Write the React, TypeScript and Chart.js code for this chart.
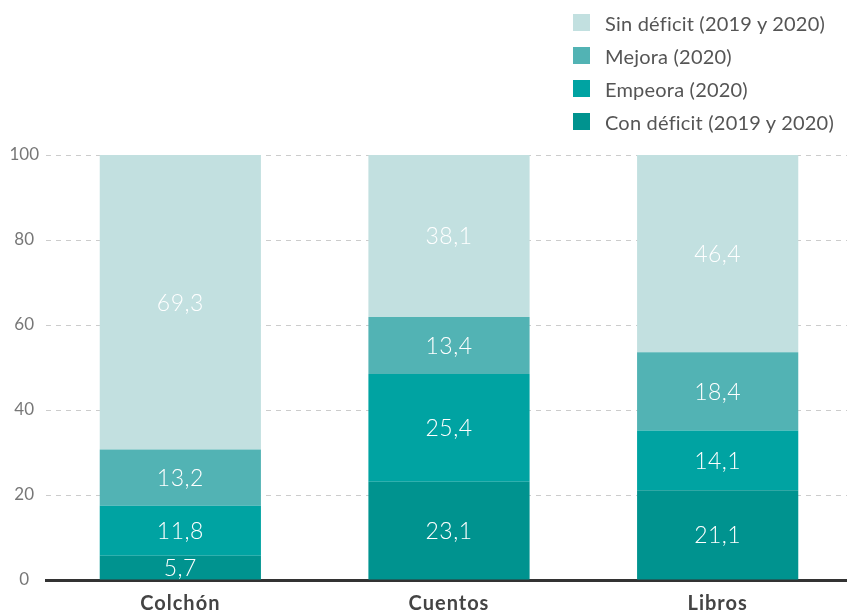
import React, { useEffect, useRef } from "react";
import { Chart, registerables } from "chart.js";

Chart.register(...registerables);

const categories = ["Colchón", "Cuentos", "Libros"];
const conDeficit = [5.7, 23.1, 21.1];
const empeora = [11.8, 25.4, 14.1];
const mejora = [13.2, 13.4, 18.4];
const sinDeficit = [69.3, 38.1, 46.4];
const yTicks = [0, 20, 40, 60, 80, 100];

const seriesNames = ["Con déficit (2019 y 2020)", "Empeora (2020)", "Mejora (2020)", "Sin déficit (2019 y 2020)"];
const seriesColors = ["#00938f", "#00a3a2", "#52b3b4", "#c2e0e0"];
const seriesData = [conDeficit, empeora, mejora, sinDeficit];

const FONT = "Lato, 'Open Sans', sans-serif";

const labelPlugin = {
  id: "segLabels",
  afterDatasetsDraw(chart: any) {
    const ctx = chart.ctx;
    ctx.save();
    ctx.fillStyle = "#ffffff";
    ctx.font = `300 23px ${FONT}`;
    (ctx as any).letterSpacing = "0.5px";
    ctx.textAlign = "center";
    ctx.textBaseline = "middle";
    chart.data.datasets.forEach((ds: any, i: number) => {
      const meta = chart.getDatasetMeta(i);
      meta.data.forEach((el: any, j: number) => {
        const v = ds.data[j];
        const y = (el.y + el.base) / 2;
        ctx.fillText(v.toFixed(1).replace(".", ","), el.x, y + 1);
      });
    });
    // category labels
    const xs = chart.scales.x;
    ctx.fillStyle = "#444444";
    ctx.font = `bold 20px ${FONT}`;
    (ctx as any).letterSpacing = "1px";
    chart.data.labels.forEach((lab: string, j: number) => {
      ctx.fillText(lab, xs.getPixelForValue(j), chart.chartArea.bottom + 24);
    });
    ctx.restore();
  },
};

export default function App() {
  const ref = useRef<HTMLCanvasElement | null>(null);
  useEffect(() => {
    document.body.style.margin = "0";
    if (!ref.current) return;
    const chart = new Chart(ref.current, {
      type: "bar",
      data: {
        labels: categories,
        datasets: seriesData.map((d, i) => ({
          label: seriesNames[i],
          data: d,
          backgroundColor: seriesColors[i],
          borderWidth: 0,
          barPercentage: 0.6,
          categoryPercentage: 1,
        })),
      },
      options: {
        responsive: false,
        animation: false,
        devicePixelRatio: 1,
        layout: { padding: { top: 155, left: 0, right: 0, bottom: 0 } },
        plugins: { legend: { display: false }, tooltip: { enabled: false } },
        scales: {
          x: {
            stacked: true,
            grid: { display: false, drawTicks: false },
            border: { display: true, color: "#333333", width: 3 },
            ticks: { display: false },
            afterFit(scale: any) {
              scale.height = 33;
            },
          },
          y: {
            stacked: true,
            min: 0,
            max: 100,
            afterBuildTicks(scale: any) {
              scale.ticks = yTicks.map((v) => ({ value: v }));
            },
            grid: {
              color: (c: any) => (c.tick && c.tick.value === 0 ? "rgba(0,0,0,0)" : "#cccccc"),
              drawTicks: false,
              lineWidth: 1,
            },
            border: { display: false, dash: [5, 5] },
            ticks: {
              color: "#777777",
              font: { family: FONT, size: 17 },
              padding: 7,
              crossAlign: "center",
            },
            afterFit(scale: any) {
              scale.width = 46;
            },
          },
        },
      },
      plugins: [labelPlugin],
    } as any);
    return () => chart.destroy();
  }, []);

  const legendItems = [3, 2, 1, 0];
  return (
    <div style={{ position: "absolute", left: 0, top: 0, width: 847, height: 613, overflow: "hidden", background: "#fff" }}>
      <canvas ref={ref} width={852} height={613} style={{ width: 852, height: 613, display: "block" }} />
      <div style={{ position: "absolute", left: 573, top: 6 }}>
        {legendItems.map((i) => (
          <div key={i} style={{ display: "flex", alignItems: "center", height: 33, fontFamily: FONT, fontSize: 20, letterSpacing: "0.2px", color: "#555555", whiteSpace: "nowrap" }}>
            <span style={{ width: 17, height: 17, background: seriesColors[i], display: "inline-block", marginRight: 15, flex: "none" }} />
            <span>{seriesNames[i]}</span>
          </div>
        ))}
      </div>
    </div>
  );
}
